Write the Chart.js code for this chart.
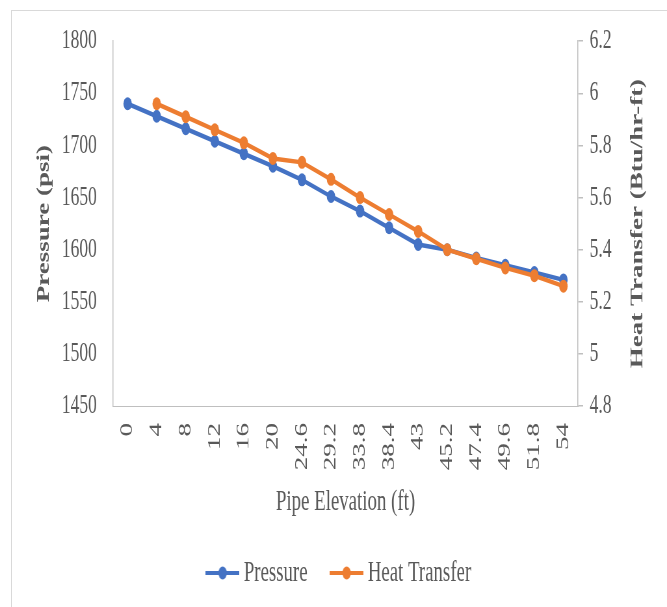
<!DOCTYPE html>
<html>
<head>
<meta charset="utf-8">
<script src="https://cdn.jsdelivr.net/npm/chart.js@4.4.1/dist/chart.umd.min.js"></script>
<style>
  html, body { margin: 0; padding: 0; background: #fff; overflow: hidden; }
  #wrap { position: relative; width: 667px; height: 607px; overflow: hidden; }
  #frame { position: absolute; left: 11px; top: 10px; width: 720px; height: 720px;
           border-left: 1px solid #d9d9d9; border-top: 1px solid #d9d9d9; }
  /* the reference is squashed sideways, so draw wide and squeeze */
  #chart { position: absolute; left: 0; top: 0; transform: scaleX(0.6501); transform-origin: 0 0; }
</style>
</head>
<body>
<div id="wrap">
  <div id="frame"></div>
  <canvas id="chart" width="1026" height="607"></canvas>
</div>
<script>
// data
const elevations = ['0', '4', '8', '12', '16', '20', '24.6', '29.2', '33.8', '38.4',
                    '43', '45.2', '47.4', '49.6', '51.8', '54'];
const pressure = [1740, 1728, 1716, 1704, 1692, 1680, 1667, 1651, 1637, 1621,
                  1605, 1600, 1592, 1585, 1578, 1571];
const heatTransfer = [null, 5.96, 5.91, 5.86, 5.81, 5.75, 5.735, 5.67, 5.60, 5.535,
                      5.47, 5.40, 5.365, 5.33, 5.30, 5.26];
const pressureRange = [1450, 1800, 50];
const heatRange = [4.8, 6.2, 0.2];

const BLUE = '#4472C4';
const ORANGE = '#ED7D31';
const TEXT = '#595959';
const AXIS = '#bfbfbf';
const SERIF = '"Liberation Serif", "Times New Roman", serif';

Chart.defaults.font.family = SERIF;
Chart.defaults.color = TEXT;

// line-with-dot legend marker
function legendMarker(color) {
  const c = document.createElement('canvas');
  c.width = 52; c.height = 16;
  const g = c.getContext('2d');
  g.strokeStyle = color; g.lineWidth = 4;
  g.beginPath(); g.moveTo(0, 8); g.lineTo(52, 8); g.stroke();
  g.fillStyle = color;
  g.beginPath(); g.arc(26, 8, 6.5, 0, Math.PI * 2); g.fill();
  return c;
}
const markers = [legendMarker(BLUE), legendMarker(ORANGE)];

// right axis title reads bottom-to-top like the left one
const rightTitle = {
  id: 'rightTitle',
  afterDraw(chart) {
    const s = chart.scales.y1;
    const ctx = chart.ctx;
    ctx.save();
    ctx.translate(s.right - 16.2, (chart.chartArea.top + chart.chartArea.bottom) / 2);
    ctx.rotate(-Math.PI / 2);
    ctx.font = 'bold 27px ' + SERIF;
    ctx.fillStyle = TEXT;
    ctx.textAlign = 'center';
    ctx.textBaseline = 'middle';
    ctx.fillText('Heat Transfer (Btu/hr-ft)', 0, 0);
    ctx.restore();
  }
};

new Chart(document.getElementById('chart'), {
  type: 'line',
  data: {
    labels: elevations,
    datasets: [
      { label: 'Pressure', data: pressure, yAxisID: 'y', order: 1,
        borderColor: BLUE, backgroundColor: BLUE, borderWidth: 4.5,
        pointRadius: 6.5, pointBorderWidth: 0, pointBackgroundColor: BLUE },
      { label: 'Heat Transfer', data: heatTransfer, yAxisID: 'y1', order: 0,
        borderColor: ORANGE, backgroundColor: ORANGE, borderWidth: 4.5,
        pointRadius: 6.5, pointBorderWidth: 0, pointBackgroundColor: ORANGE }
    ]
  },
  plugins: [rightTitle],
  options: {
    responsive: false,
    animation: false,
    devicePixelRatio: 1,
    layout: { padding: { left: 52, right: 28.8, top: 40, bottom: 9.5 } },
    plugins: {
      tooltip: { enabled: false },
      legend: {
        position: 'bottom',
        labels: {
          font: { size: 29 },
          color: TEXT,
          usePointStyle: true,
          pointStyleWidth: 36,
          boxHeight: 16,
          padding: 42,
          sort: (a, b) => a.datasetIndex - b.datasetIndex,
          generateLabels(chart) {
            const items = Chart.defaults.plugins.legend.labels.generateLabels(chart);
            items.forEach(it => { it.pointStyle = markers[it.datasetIndex]; });
            return items;
          }
        }
      }
    },
    scales: {
      x: {
        offset: true,
        grid: { display: true, drawOnChartArea: false, drawTicks: false },
        border: { display: true, color: AXIS, width: 1 },
        ticks: { minRotation: 90, maxRotation: 90, autoSkip: false, padding: 17,
                 font: { size: 27 }, color: TEXT },
        title: { display: true, text: 'Pipe Elevation (ft)', color: TEXT,
                 font: { size: 29, lineHeight: 1 }, padding: 0 },
        afterFit(scale) { scale.height = 110.5; }
      },
      y: {
        position: 'left',
        min: pressureRange[0], max: pressureRange[1],
        grid: { display: true, drawOnChartArea: false, drawTicks: false },
        border: { display: true, color: AXIS, width: 1.5 },
        ticks: { stepSize: pressureRange[2], padding: 25, font: { size: 27 }, color: TEXT,
                 callback: v => String(v) },
        title: { display: true, text: 'Pressure (psi)', color: TEXT,
                 font: { size: 27, weight: 'bold', lineHeight: 1.2 }, padding: 0 },
        afterFit(scale) { scale.width = 122; }
      },
      y1: {
        position: 'right',
        min: heatRange[0], max: heatRange[1],
        grid: { display: true, drawOnChartArea: false, drawTicks: true, tickLength: 8,
                color: AXIS, lineWidth: 1.5 },
        border: { display: true, color: AXIS, width: 1.5 },
        ticks: { stepSize: heatRange[2], padding: 10, font: { size: 27 }, color: TEXT,
                 callback: v => String(+v.toFixed(1)) },
        title: { display: false },
        afterFit(scale) { scale.width = 108.2; }
      }
    }
  }
});
</script>
</body>
</html>
